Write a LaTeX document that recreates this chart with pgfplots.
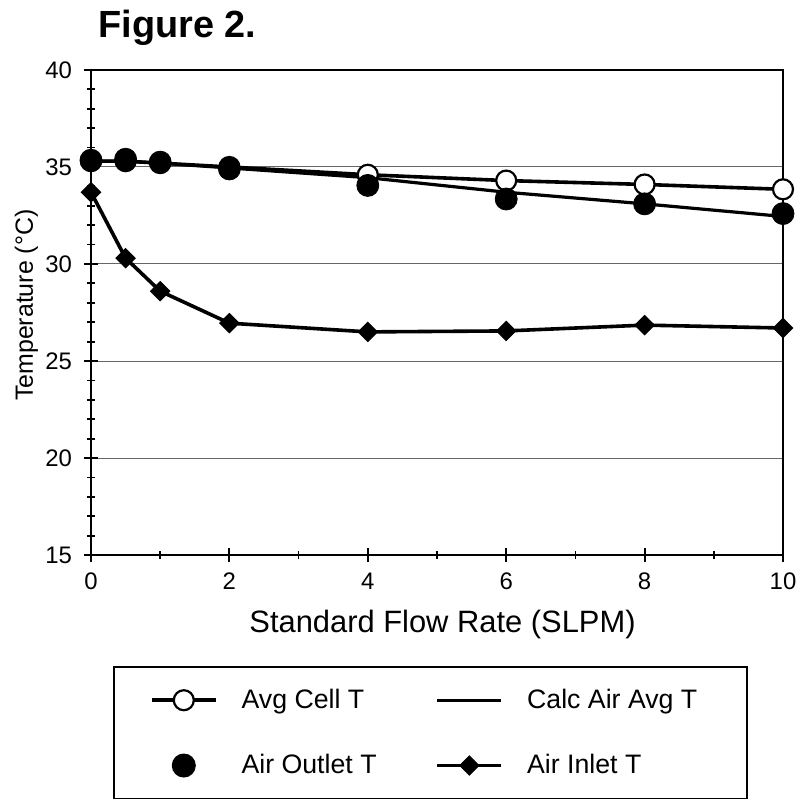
\documentclass[border=0pt]{standalone}
\usepackage{fontspec}
\setmainfont{Liberation Sans}
\usepackage{graphicx}
\usepackage{pgfplots}
\pgfplotsset{compat=1.18}

\begin{document}
\begin{tikzpicture}
\useasboundingbox (-45.5bp,-122bp) rectangle (355.5bp,277.5bp);
\begin{axis}[
  name=ax,
  scale only axis, width=346bp, height=242.5bp,
  xmin=0, xmax=10, ymin=15, ymax=40,
  xtick={0,2,...,10}, ytick={15,20,...,40},
  minor x tick num=1, minor y tick num=4,
  tick align=center, xtick pos=bottom, ytick pos=left,
  major tick length=7bp, minor tick length=4bp,
  tick style={black, line width=0.9bp},
  axis line style={line width=1.2bp},
  ymajorgrids, grid style={black!60, line width=0.5bp},
  /pgf/number format/assume math mode=true,
  xticklabel style={font=\fontsize{12}{12}\selectfont, yshift=-2bp},
  yticklabel style={font=\fontsize{12}{12}\selectfont, xshift=-2.5bp},
  xlabel={Standard Flow Rate (SLPM)},
  ylabel={Temperature (°C)},
  every axis x label/.style={at={(axis description cs:0.508,0)}, anchor=base, yshift=-38.5bp, font=\fontsize{15.5}{16}\selectfont},
  every axis y label/.style={at={(axis description cs:0,0.515)}, rotate=90, anchor=base, yshift=29bp, font=\fontsize{12.5}{13}\selectfont},
  legend columns=2, legend cell align=left,
  legend image code/.code={\draw[mark repeat=2,mark phase=2,#1] plot coordinates {(0bp,0bp)(16bp,0bp)(32bp,0bp)};},
  legend style={at={(axis description cs:0.0318,-0.229)}, anchor=north west,
    draw=black, line width=1bp, inner xsep=18bp, inner ysep=9bp,
    font=\fontsize{13.4}{15}\selectfont, row sep=17.5bp,
    /tikz/every odd column/.append style={column sep=10bp},
    /tikz/every even column/.append style={column sep=27.5bp}},
]
\addplot[black, line width=1.8bp, mark=*, mark size=5bp, mark options={fill=white, line width=1.1bp}]
  coordinates {(0,35.3)(0.5,35.3)(1,35.2)(2,35.0)(4,34.6)(6,34.3)(8,34.1)(10,33.85)};
\addlegendentry{Avg Cell T}
\addplot[black, line width=1.6bp]
  coordinates {(0,35.3)(0.5,35.3)(1,35.2)(2,34.95)(4,34.45)(6,33.7)(8,33.1)(10,32.45)};
\addlegendentry{Calc Air Avg T\hspace*{5bp}}
\addplot[black, only marks, mark=*, mark size=5.5bp]
  coordinates {(0,35.35)(0.5,35.4)(1,35.25)(2,34.9)(4,34.05)(6,33.35)(8,33.1)(10,32.6)};
\addlegendentry{Air Outlet T}
\addplot[black, line width=1.8bp, mark=square*, mark size=3.4bp, mark options={rotate=45, line width=0.5bp}]
  coordinates {(0,33.7)(0.5,30.3)(1,28.6)(2,26.95)(4,26.5)(6,26.55)(8,26.85)(10,26.7)};
\addlegendentry{Air Inlet T}
\end{axis}
\node[anchor=base west, inner sep=0pt, font=\bfseries\fontsize{19}{20}\selectfont]
  at ([xshift=3.5bp,yshift=16bp]ax.north west) {Figure 2.};
\end{tikzpicture}
\end{document}
